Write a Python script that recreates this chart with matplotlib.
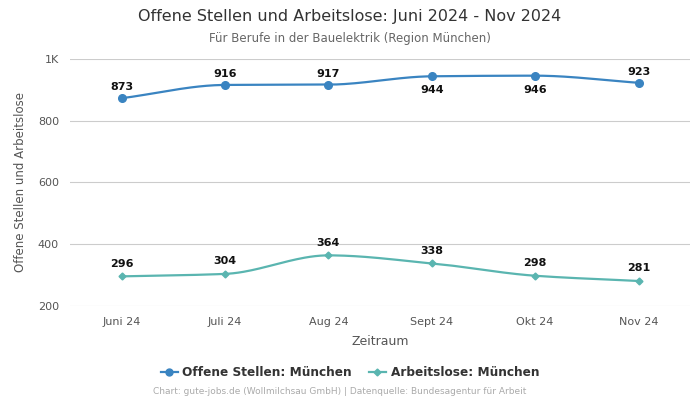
import numpy as np
import matplotlib.pyplot as plt

months = ["Juni 24", "Juli 24", "Aug 24", "Sept 24", "Okt 24", "Nov 24"]
offene = [873, 916, 917, 944, 946, 923]
arbeitslose = [296, 304, 364, 338, 298, 281]
yticks = [200, 400, 600, 800, 1000]
ytick_labels = ["200", "400", "600", "800", "1K"]

blue = "#3a84c1"
teal = "#5ab5b0"


def smooth(y, n=40):
    # monotone cubic (Fritsch-Carlson) between the points
    y = np.asarray(y, float)
    x = np.arange(len(y), dtype=float)
    d = np.diff(y)
    m = np.zeros(len(y))
    m[0], m[-1] = d[0], d[-1]
    for i in range(1, len(y) - 1):
        if d[i - 1] * d[i] > 0:
            m[i] = 2 / (1 / d[i - 1] + 1 / d[i])
    xs, ys = [], []
    for i in range(len(y) - 1):
        t = np.linspace(0, 1, n)
        h00 = 2 * t**3 - 3 * t**2 + 1
        h10 = t**3 - 2 * t**2 + t
        h01 = -2 * t**3 + 3 * t**2
        h11 = t**3 - t**2
        xs.append(x[i] + t)
        ys.append(h00 * y[i] + h10 * m[i] + h01 * y[i + 1] + h11 * m[i + 1])
    return np.concatenate(xs), np.concatenate(ys)


fig = plt.figure(figsize=(7, 4), dpi=100)
ax = fig.add_axes([0.1, 0.235, 0.886, 0.6175])
x = np.arange(len(months))

sx, sy = smooth(offene)
ax.plot(sx, sy, color=blue, lw=1.6, zorder=3)
ax.plot(x, offene, "o", color=blue, ms=5.5, zorder=4)
sx, sy = smooth(arbeitslose)
ax.plot(sx, sy, color=teal, lw=1.6, zorder=3)
ax.plot(x, arbeitslose, "D", color=teal, ms=3.5, zorder=4)

for i, v in enumerate(offene):
    below = v in (944, 946)
    ax.annotate(str(v), (i, v), xytext=(0, -10 if below else 8), textcoords="offset points",
                ha="center", va="center", fontsize=8, fontweight="bold", color="#111111")
for i, v in enumerate(arbeitslose):
    ax.annotate(str(v), (i, v), xytext=(0, 9), textcoords="offset points",
                ha="center", va="center", fontsize=8, fontweight="bold", color="#111111")

ax.set_xlim(-0.5, 5.5)
ax.set_ylim(200, 1000)
ax.set_yticks(yticks)
ax.set_yticklabels(ytick_labels)
ax.set_xticks(x)
ax.set_xticklabels(months)
ax.tick_params(axis="both", length=0, labelsize=8, colors="#555555", pad=8)
ax.grid(axis="y", color="#cccccc", lw=0.8)
ax.set_axisbelow(True)
for s in ax.spines.values():
    s.set_visible(False)
ax.set_xlabel("Zeitraum", fontsize=9, color="#555555", labelpad=6)
ax.set_ylabel("Offene Stellen und Arbeitslose", fontsize=8.5, color="#555555", labelpad=8)

fig.text(0.5, 0.958, "Offene Stellen und Arbeitslose: Juni 2024 - Nov 2024",
         ha="center", va="center", fontsize=11.5, color="#333333")
fig.text(0.5, 0.903, "Für Berufe in der Bauelektrik (Region München)",
         ha="center", va="center", fontsize=8.5, color="#666666")

h1, = ax.plot([], [], "-o", color=blue, ms=5, lw=1.6)
h2, = ax.plot([], [], "-D", color=teal, ms=3.5, lw=1.6)
leg = fig.legend([h1, h2], ["Offene Stellen: München", "Arbeitslose: München"],
                 loc="center", bbox_to_anchor=(0.5, 0.068), ncol=2, frameon=False,
                 prop={"weight": "bold", "size": 8.7}, handlelength=1.4, columnspacing=1.4,
                 handletextpad=0.4)
for t in leg.get_texts():
    t.set_color("#333333")

fig.text(0.485, 0.02, "Chart: gute-jobs.de (Wollmilchsau GmbH) | Datenquelle: Bundesagentur für Arbeit",
         ha="center", va="center", fontsize=6.5, color="#aaaaaa")

fig.savefig("out.png", dpi=100)
